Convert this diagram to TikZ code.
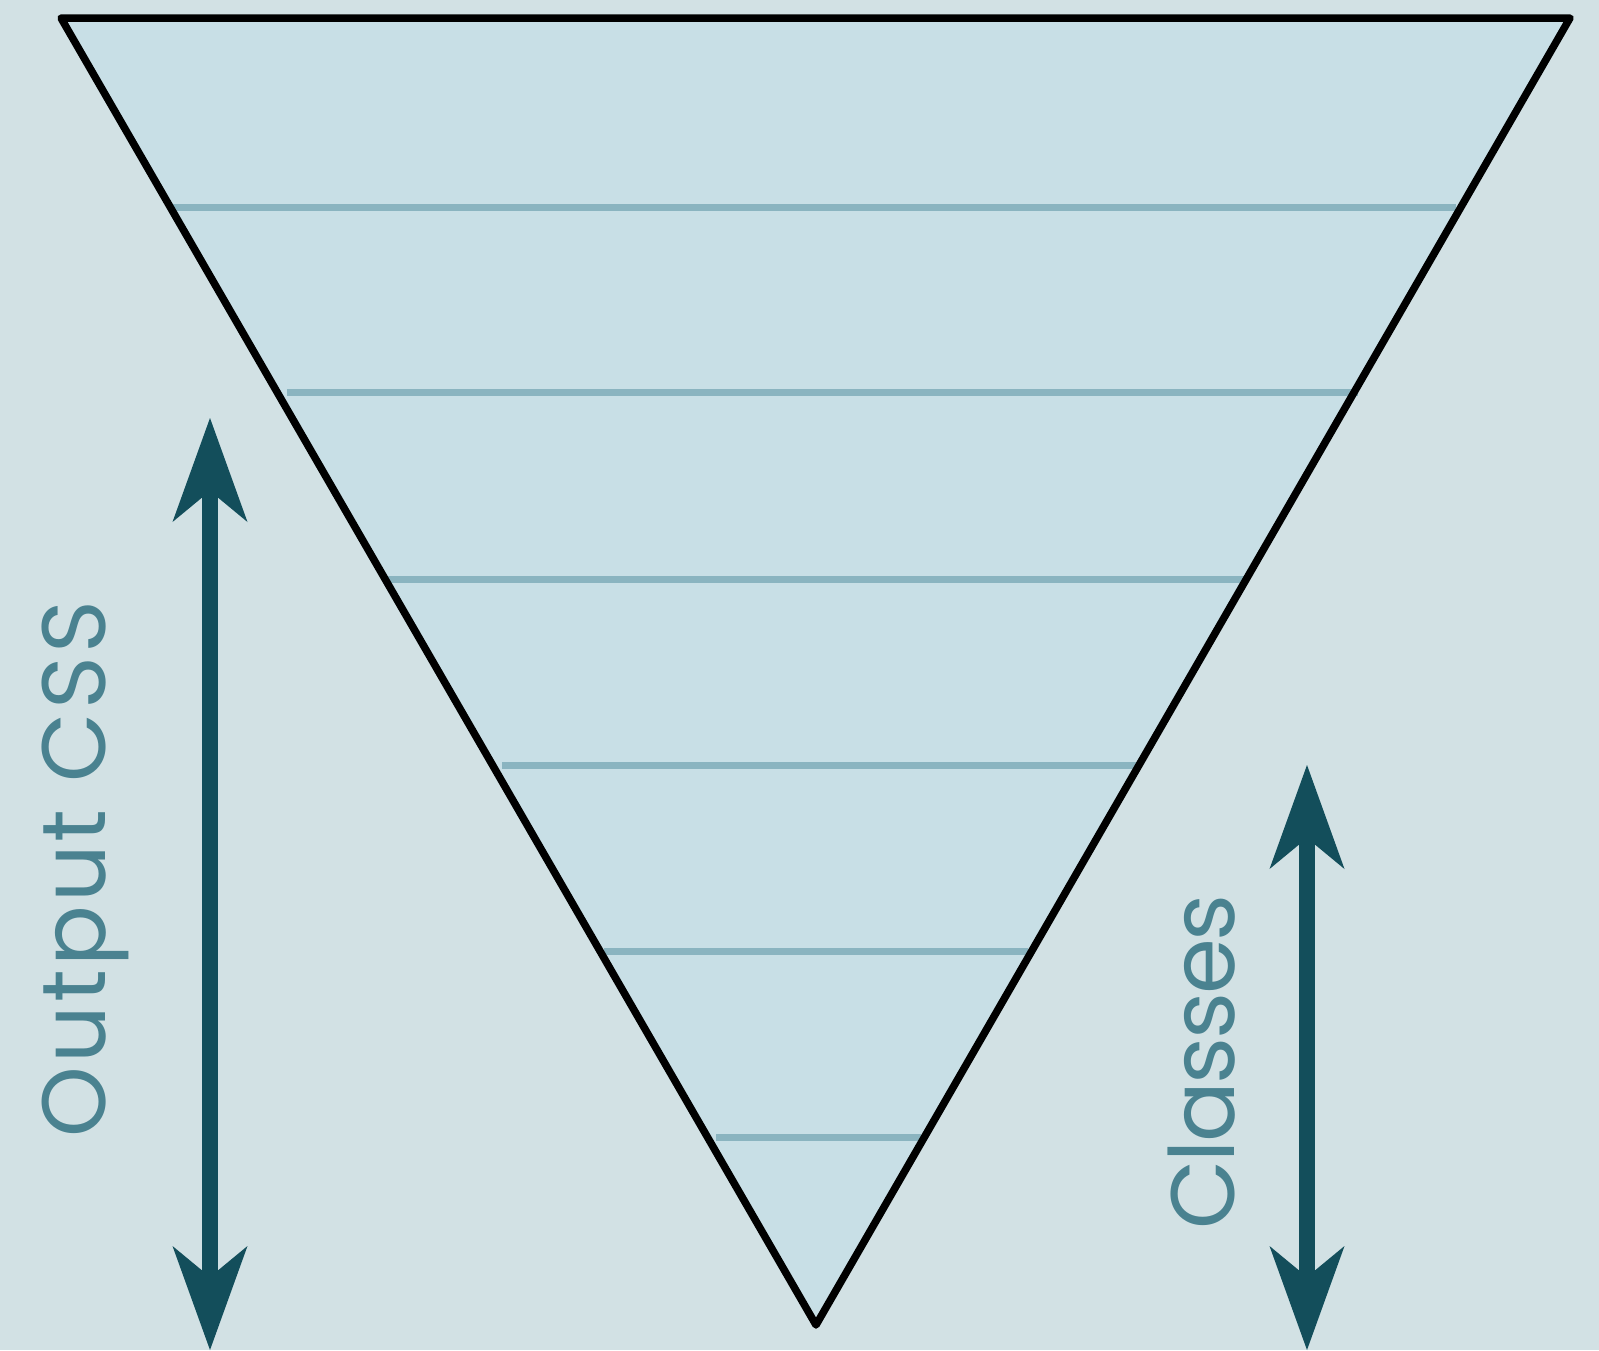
\documentclass[tikz,border=0pt]{standalone}
\usepackage{fontspec}
\setmainfont{Poppins}
\usetikzlibrary{arrows.meta}
\definecolor{bgc}{HTML}{D2E1E4}
\definecolor{fillc}{HTML}{C8DFE6}
\definecolor{bandc}{HTML}{8AB4C0}
\definecolor{arrowc}{HTML}{134E5B}
\definecolor{textc}{HTML}{4A8290}
\tikzset{
  band/.style={draw=bandc, line width=7pt},
  funnel/.style={draw=black, line width=7.5pt, line join=round},
  dblarrow/.style={draw=arrowc, line width=16pt,
    {Stealth[length=104pt,width=75pt,inset=31pt,line width=0pt]}-{Stealth[length=104pt,width=75pt,inset=31pt,line width=0pt]}},
  lbl/.style={text=textc, font=\fontsize{90}{90}\selectfont, rotate=90, anchor=base, inner sep=0pt}
}
\begin{document}
\begin{tikzpicture}[x=1pt,y=-1pt]
\useasboundingbox[fill=bgc] (0,0) rectangle (1599,1350);
\coordinate (tl) at (61,18);
\coordinate (tr) at (1570,18);
\coordinate (bt) at (816,1325);
\fill[fillc] (tl) -- (tr) -- (bt) -- cycle;
\draw[band] (173,207) -- (1456,207);
\draw[band] (287,392.5) -- (1358,392.5);
\draw[band] (387,579) -- (1244,579);
\draw[band] (502,765) -- (1139,765);
\draw[band] (604,951.5) -- (1028,951.5);
\draw[band] (716,1137) -- (921,1137);
\draw[funnel] (tl) -- (tr) -- (bt) -- cycle;
\coordinate (la) at (210,418);
\coordinate (lb) at (210,1350);
\coordinate (ra) at (1307,765);
\coordinate (rb) at (1307,1350);
\draw[dblarrow] (la) -- (lb);
\draw[dblarrow] (ra) -- (rb);
\node[lbl] (out) at (105,869) {\addfontfeature{LetterSpace=3.5}Output CSS};
\node[lbl] (cls) at (1234,1062) {\addfontfeature{LetterSpace=-2.5}Classes};
\end{tikzpicture}
\end{document}
